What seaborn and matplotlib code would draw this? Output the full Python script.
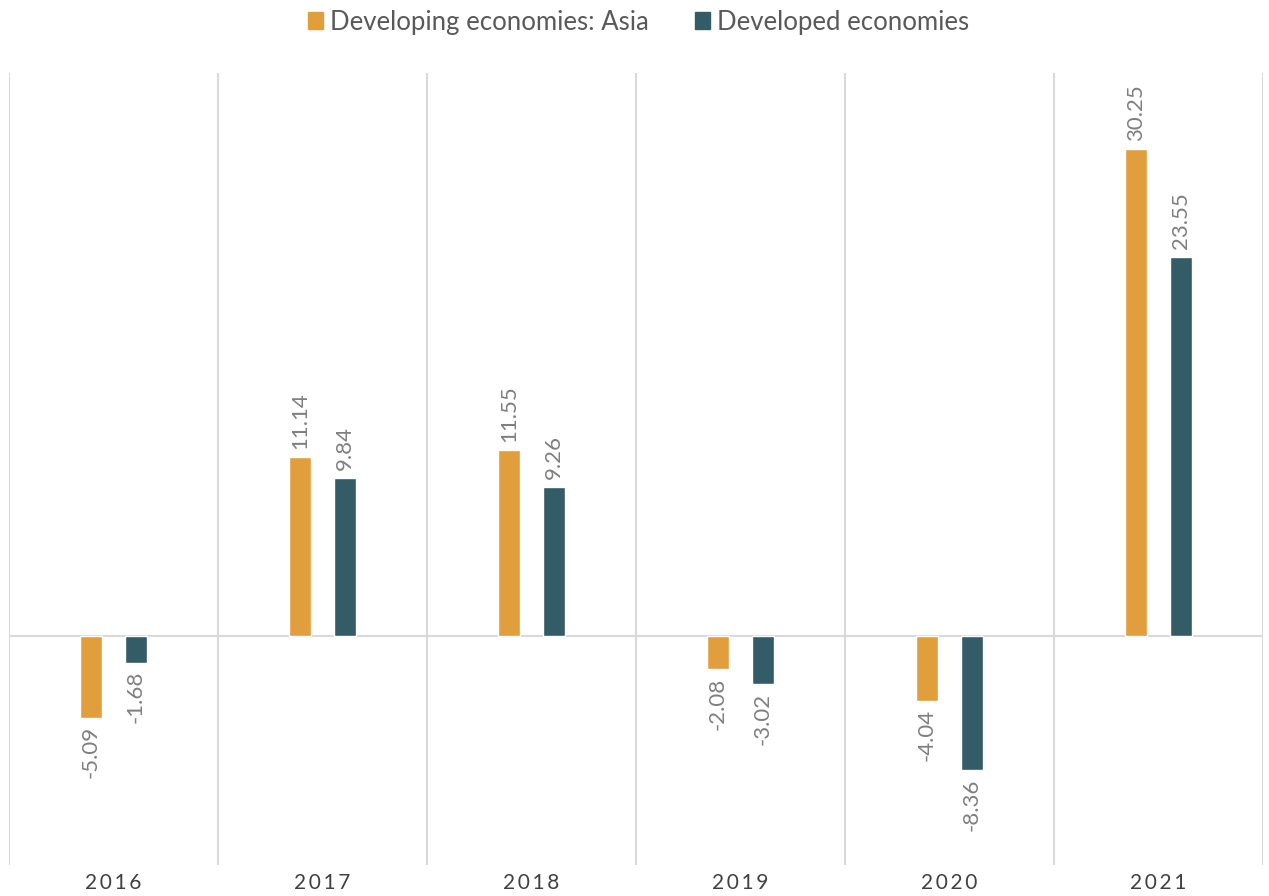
import numpy as np
import pandas as pd
import seaborn as sns
from matplotlib import pyplot as plt
from matplotlib.patches import Patch

years = ['2016', '2017', '2018', '2019', '2020', '2021']
asia = [-5.09, 11.14, 11.55, -2.08, -4.04, 30.25]
developed = [-1.68, 9.84, 9.26, -3.02, -8.36, 23.55]
series = ['Developing economies: Asia', 'Developed economies']
colors = ['#E09E3C', '#345C66']

df = pd.DataFrame({
    'year': years * 2,
    'value': asia + developed,
    'series': [series[0]] * len(years) + [series[1]] * len(years),
})

sns.set_style('white')
plt.rcParams['font.family'] = ['Lato', 'DejaVu Sans']

fig = plt.figure(figsize=(12.69, 8.96), dpi=100)
ax = fig.add_axes([9 / 1269, 31 / 896, 1254 / 1269, 792 / 896])

sns.barplot(data=df, x='year', y='value', hue='series', palette=colors,
            width=0.43, gap=0.49, ax=ax, legend=False, saturation=1)

ax.set_xlim(-0.5, 5.5)
ax.set_ylim(-14.25, 35)

for xb in np.arange(-0.5, 6, 1):
    ax.axvline(xb, color='#d9d9d9', lw=1.5, zorder=0)
ax.axhline(0, color='#d9d9d9', lw=1.5, zorder=0)

for cont in ax.containers:
    for bar in cont:
        h = bar.get_height()
        xc = bar.get_x() + bar.get_width() / 2
        off = 0.5 if h >= 0 else -0.5
        ax.text(xc, h + off, f'{h:.2f}', rotation=90, ha='center',
                va='bottom' if h >= 0 else 'top', fontsize=16, color='#7f7f7f')

for s in ax.spines.values():
    s.set_visible(False)
ax.set_yticks([])
ax.set_xlabel('')
ax.set_ylabel('')
ax.set_xticks(range(len(years)))
ax.set_xticklabels(['\u2009'.join(y) for y in years], fontsize=15, color='#404040')
ax.tick_params(axis='x', length=0, pad=6)

handles = [Patch(color=c, label=l) for c, l in zip(colors, series)]
fig.legend(handles=handles, loc='upper center', bbox_to_anchor=(0.503, 1.015), ncol=2,
           frameon=False, fontsize=18.5, handlelength=0.6, handleheight=0.6,
           handletextpad=0.25, columnspacing=1.8, labelcolor='#595959')

plt.savefig('out.png', dpi=100)
